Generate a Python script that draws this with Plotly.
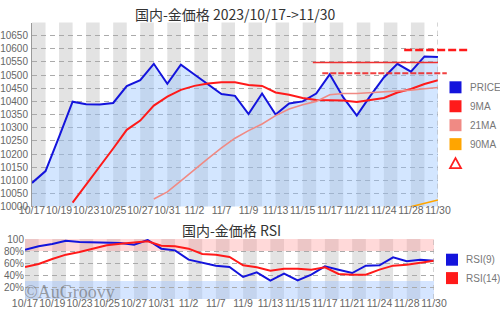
import plotly.graph_objects as go

W, H = 500, 310

dates = ["10/17", "10/18", "10/19", "10/20", "10/23", "10/24", "10/25", "10/26",
         "10/27", "10/30", "10/31", "11/1", "11/2", "11/6", "11/7", "11/8",
         "11/9", "11/10", "11/13", "11/14", "11/15", "11/16", "11/17", "11/20",
         "11/21", "11/22", "11/24", "11/27", "11/28", "11/29", "11/30"]
price = [10090, 10135, 10265, 10399, 10389, 10388, 10394, 10458, 10481, 10543,
         10467, 10540, 10502, 10466, 10428, 10421, 10352, 10430, 10350, 10392,
         10400, 10430, 10503, 10415, 10346, 10421, 10491, 10543, 10513, 10571, 10569]
ma9 = [None, None, None, 10015, 10083, 10153, 10221, 10292, 10327, 10384,
       10418, 10444, 10459, 10468, 10473, 10473, 10462, 10459, 10434, 10425,
       10413, 10405, 10403, 10403, 10398, 10405, 10413, 10434, 10447, 10466, 10481]
ma21 = [None] * 9 + [10029, 10056, 10098, 10141, 10182, 10223, 10260, 10289,
                     10314, 10346, 10371, 10387, 10400, 10425, 10430, 10430,
                     10433, 10438, 10440, 10443, 10448, 10453]
ma90 = [None] * 27 + [9987, 10000, 10013, 10025]
rsi9 = [82.2, 87.8, 91.7, 97.2, 95, 94.4, 94.4, 93.3, 90.6, 98.3, 83.9, 81.1,
        65.6, 61.1, 55.6, 53.3, 36.7, 44.4, 30.6, 42.2, 31.1, 40.6, 54.4, 48.9,
        43.3, 55.6, 56.1, 69.4, 62.8, 65.6, 63.9]
rsi14 = [53.3, 58.3, 66.7, 73.9, 78.3, 83.3, 89.4, 92.2, 94.4, 96.1, 88.9, 87.8,
         83.9, 75, 73.9, 70, 56.1, 52.8, 47.2, 50.6, 50.6, 48.9, 52.8, 41.7,
         40.6, 40.6, 48.9, 55.6, 57.2, 61.1, 63.9]
level_vals = [10595, 10548, 10507]
level_from = [27.5, 20.75, 21.45]
level_to = [32.2, 30.0, 30.65]
y_ticks = [10000, 10050, 10100, 10150, 10200, 10250, 10300, 10350, 10400,
           10450, 10500, 10550, 10600, 10650]
y_ticktext = [str(v) for v in y_ticks]
rsi_ticks = [20, 40, 60, 80, 100]
rsi_ticktext = ["20%", "40%", "60%", "80%", "100"]
legend_main = ["PRICE", "9MA", "21MA", "90MA"]
legend_rsi = ["RSI(9)", "RSI(14)"]

idx = list(range(len(dates)))
tick_idx = idx[::2]
tick_txt = dates[::2]

C_PRICE = "#1414dc"
C_9 = "#ff1a1a"
C_21 = "#f08a84"
C_90 = "#ffa500"
C_R9 = "#1414dc"
C_R14 = "#ff1a1a"

XD1 = [32 / W, 438 / W]
YD1 = [1 - 206.6 / H, 1 - 22.5 / H]
XD2 = [25 / W, 434 / W]
YD2 = [1 - 299 / H, 1 - 239 / H]
XR = [0, len(dates) - 1]


def px(x):
    return x / W


def py(y):
    return 1 - y / H


def idx_to_paper(i):
    return XD1[0] + (i - XR[0]) / (XR[1] - XR[0]) * (XD1[1] - XD1[0])


fig = go.Figure()
fig.add_trace(go.Scatter(x=idx, y=price, mode="lines", line=dict(color=C_PRICE, width=2),
                         fill="tozeroy", fillcolor="rgba(150,195,255,0.42)",
                         xaxis="x", yaxis="y", hoverinfo="skip"))
fig.add_trace(go.Scatter(x=idx, y=ma9, mode="lines", line=dict(color=C_9, width=2),
                         xaxis="x", yaxis="y"))
fig.add_trace(go.Scatter(x=idx, y=ma21, mode="lines", line=dict(color=C_21, width=1.6),
                         xaxis="x", yaxis="y"))
fig.add_trace(go.Scatter(x=idx, y=ma90, mode="lines", line=dict(color=C_90, width=1.6),
                         xaxis="x", yaxis="y"))
fig.add_trace(go.Scatter(x=idx, y=rsi9, mode="lines", line=dict(color=C_R9, width=2),
                         xaxis="x2", yaxis="y2"))
fig.add_trace(go.Scatter(x=idx, y=rsi14, mode="lines", line=dict(color=C_R14, width=2),
                         xaxis="x2", yaxis="y2"))

shapes = []
# alternating stripes
for k in range(0, len(dates) - 1, 2):
    for xr, yr in (("x", "y domain"), ("x2", "y2 domain")):
        shapes.append(dict(type="rect", xref=xr, yref=yr, x0=k, x1=k + 1, y0=0, y1=1,
                           fillcolor="#e3e3e3", line=dict(width=0), layer="below"))
# RSI zones
shapes.append(dict(type="rect", xref="x2 domain", yref="y2", x0=0, x1=1, y0=80, y1=100,
                   fillcolor="rgba(255,140,140,0.33)", line=dict(width=0), layer="below"))
shapes.append(dict(type="rect", xref="x2 domain", yref="y2", x0=0, x1=1, y0=0, y1=30,
                   fillcolor="rgba(150,190,255,0.4)", line=dict(width=0), layer="below"))
# right dashed borders
shapes.append(dict(type="line", xref="x", yref="y domain", x0=XR[1], x1=XR[1], y0=0, y1=1,
                   line=dict(color="#aaaaaa", width=1, dash="5px,4px")))
shapes.append(dict(type="line", xref="x2", yref="y2 domain", x0=XR[1], x1=XR[1], y0=0, y1=1,
                   line=dict(color="#aaaaaa", width=1, dash="5px,4px")))
# level lines
level_styles = [dict(color=C_9, width=2.5, dash="8px,3px"),
                dict(color="#f03030", width=1.6),
                dict(color="rgba(240,30,30,0.85)", width=2, dash="6px,2px")]
for v, a, b, st in zip(level_vals, level_from, level_to, level_styles):
    shapes.append(dict(type="line", xref="paper", yref="y", x0=idx_to_paper(a),
                       x1=idx_to_paper(b), y0=v, y1=v, line=st))

# legend squares
annotations = []
leg_font = dict(family="Liberation Sans, Arial, sans-serif", size=10, color="#777777")
main_cols = [C_PRICE, C_9, C_21, C_90]
for j, (lab, col) in enumerate(zip(legend_main, main_cols)):
    yc = 87.3 + j * 18.95
    shapes.append(dict(type="rect", xref="paper", yref="paper", x0=px(449.5), x1=px(461.5),
                       y0=py(yc + 6), y1=py(yc - 6), fillcolor=col, line=dict(width=0)))
    annotations.append(dict(text=lab, xref="paper", yref="paper", x=px(467.5), y=py(yc),
                            xanchor="left", yanchor="middle", showarrow=False, font=leg_font))
yc = 87.3 + 4 * 18.95
shapes.append(dict(type="path", xref="paper", yref="paper",
                   path="M %f %f L %f %f L %f %f Z" % (px(450), py(yc + 5), px(455.5), py(yc - 5),
                                                       px(461), py(yc + 5)),
                   line=dict(color="#ff2020", width=1.8), fillcolor="rgba(0,0,0,0)"))
for j, (lab, col) in enumerate(zip(legend_rsi, [C_R9, C_R14])):
    yc = 259.7 + j * 18.4
    shapes.append(dict(type="rect", xref="paper", yref="paper", x0=px(446), x1=px(458),
                       y0=py(yc + 6), y1=py(yc - 6), fillcolor=col, line=dict(width=0)))
    annotations.append(dict(text=lab, xref="paper", yref="paper", x=px(464), y=py(yc),
                            xanchor="left", yanchor="middle", showarrow=False, font=leg_font))

title_font = dict(family="Noto Sans CJK JP, sans-serif", size=14, color="#333333")
annotations.append(dict(text="国内-金価格 2023/10/17->11/30", xref="paper", yref="paper",
                        x=px(235.5), y=py(14), xanchor="center", yanchor="middle",
                        showarrow=False, font=title_font))
annotations.append(dict(text="国内-金価格 RSI", xref="paper", yref="paper",
                        x=px(231), y=py(229.5), xanchor="center", yanchor="middle",
                        showarrow=False, font=title_font))
annotations.append(dict(text="©AuGroovy", xref="paper", yref="paper", x=px(22), y=py(291.5),
                        xanchor="left", yanchor="middle", showarrow=False,
                        font=dict(family="Liberation Serif, Times New Roman, serif", size=18,
                                  color="rgba(110,110,110,0.65)")))

tick_font = dict(family="Liberation Sans, Arial, sans-serif", size=10, color="#666666")
xtick_font = dict(family="Liberation Sans, Arial, sans-serif", size=10.5, color="#666666")
grid = dict(showgrid=True, gridcolor="#aaaaaa", griddash="5px,4px", gridwidth=1)
common = dict(automargin=False, zeroline=False, ticks="")

fig.update_layout(
    template="none",
    width=W, height=H, margin=dict(l=0, r=0, t=0, b=0, pad=0),
    paper_bgcolor="white", plot_bgcolor="rgba(0,0,0,0)",
    showlegend=False, shapes=shapes, annotations=annotations,
    xaxis=dict(domain=XD1, range=XR, anchor="y", tickvals=tick_idx, ticktext=tick_txt,
               showgrid=False, showline=False, tickangle=0, ticklabelstandoff=-4,
               tickfont=xtick_font, **common),
    yaxis=dict(domain=YD1, range=[10000, 10700], anchor="x", tickvals=y_ticks,
               ticktext=y_ticktext, showline=True, linecolor="#999999", linewidth=1,
               ticklabelstandoff=1, tickfont=tick_font, **grid, **common),
    xaxis2=dict(domain=XD2, range=XR, anchor="y2", tickvals=tick_idx, ticktext=tick_txt,
                showgrid=False, showline=False, tickangle=0, ticklabelstandoff=-4,
                tickfont=xtick_font, **common),
    yaxis2=dict(domain=YD2, range=[0, 100], anchor="x2", tickvals=rsi_ticks,
                ticktext=rsi_ticktext, showline=False, ticklabelstandoff=0,
                tickfont=tick_font, **grid, **common),
)

fig.write_html("out.html")
